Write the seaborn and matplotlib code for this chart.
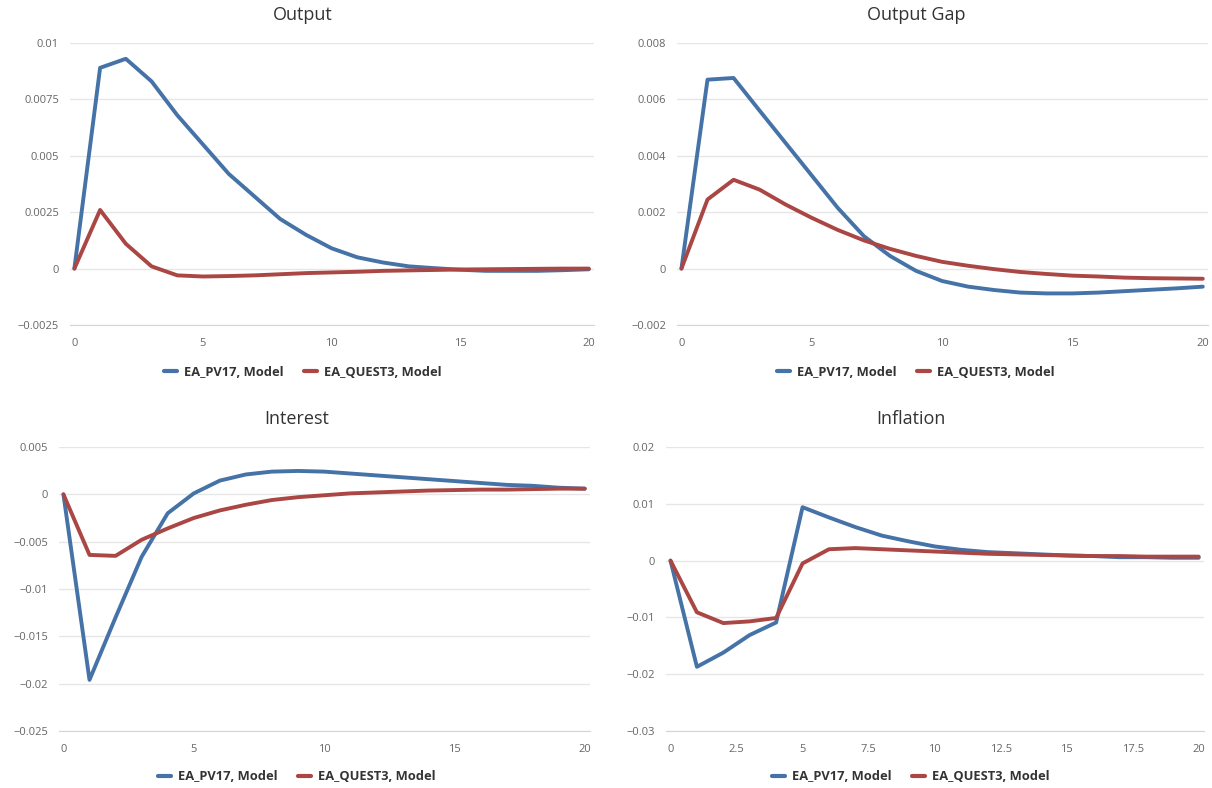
import pandas as pd
import matplotlib
matplotlib.use("Agg")
import matplotlib.pyplot as plt
import seaborn as sns

# impulse responses, periods 0..20
periods = list(range(21))
series_names = ["EA_PV17, Model", "EA_QUEST3, Model"]

output_pv17 = [0, 0.0089, 0.0093, 0.0083, 0.0068, 0.0055, 0.0042, 0.0032, 0.0022, 0.0015, 0.0009,
               0.0005, 0.00027, 0.0001, 0.00002, -0.00005, -0.0001, -0.0001, -0.0001, -0.00007, -0.00003]
output_quest3 = [0, 0.0026, 0.0011, 0.0001, -0.0003, -0.00035, -0.00033, -0.0003, -0.00025, -0.0002, -0.00017,
                 -0.00014, -0.0001, -0.00008, -0.00006, -0.00004, -0.00003, -0.00002, -0.00001, 0, 0]

gap_pv17 = [0, 0.0067, 0.00676, 0.0056, 0.00445, 0.0033, 0.00215, 0.00115, 0.00045, -0.00008, -0.00044,
            -0.00064, -0.00076, -0.00085, -0.00088, -0.00088, -0.00085, -0.0008, -0.00075, -0.0007, -0.00064]
gap_quest3 = [0, 0.00245, 0.00315, 0.0028, 0.00227, 0.0018, 0.00137, 0.001, 0.0007, 0.00045, 0.00024,
              0.0001, -0.00002, -0.00012, -0.00019, -0.00025, -0.00028, -0.00032, -0.00034, -0.00035, -0.00036]

interest_pv17 = [0, -0.0196, -0.013, -0.0066, -0.002, 0.0001, 0.00145, 0.0021, 0.0024, 0.00247, 0.0024,
                 0.0022, 0.002, 0.0018, 0.0016, 0.0014, 0.0012, 0.001, 0.0009, 0.0007, 0.0006]
interest_quest3 = [0, -0.0064, -0.0065, -0.0048, -0.0036, -0.0025, -0.0017, -0.0011, -0.0006, -0.0003, -0.0001,
                   0.0001, 0.0002, 0.0003, 0.0004, 0.00045, 0.0005, 0.0005, 0.00055, 0.0006, 0.0006]

inflation_pv17 = [0, -0.0187, -0.0162, -0.0131, -0.0109, 0.0094, 0.0076, 0.0059, 0.0044, 0.0034, 0.0025,
                  0.0019, 0.0015, 0.0013, 0.0011, 0.0009, 0.0008, 0.0006, 0.0006, 0.0005, 0.0005]
inflation_quest3 = [0, -0.0091, -0.011, -0.0107, -0.0101, -0.0005, 0.002, 0.0022, 0.002, 0.0018, 0.0016,
                    0.0014, 0.0012, 0.0011, 0.001, 0.0009, 0.0008, 0.0008, 0.0007, 0.0007, 0.0007]

titles = ["Output", "Output Gap", "Interest", "Inflation"]
y_ticks = [
    [-0.0025, 0, 0.0025, 0.005, 0.0075, 0.01],
    [-0.002, 0, 0.002, 0.004, 0.006, 0.008],
    [-0.025, -0.02, -0.015, -0.01, -0.005, 0, 0.005],
    [-0.03, -0.02, -0.01, 0, 0.01, 0.02],
]
x_ticks = [
    [0, 5, 10, 15, 20],
    [0, 5, 10, 15, 20],
    [0, 5, 10, 15, 20],
    [0, 2.5, 5, 7.5, 10, 12.5, 15, 17.5, 20],
]
panel_data = [
    (output_pv17, output_quest3),
    (gap_pv17, gap_quest3),
    (interest_pv17, interest_quest3),
    (inflation_pv17, inflation_quest3),
]

sns.set_style("white")
plt.rcParams["font.family"] = ["Open Sans", "DejaVu Sans"]

palette = {series_names[0]: "#4572A7", series_names[1]: "#AA4643"}

W, H = 1212, 788
fig = plt.figure(figsize=(W / 100, H / 100), dpi=100)

# axes boxes in pixels: left, top, right, bottom
boxes = [(70, 43, 594, 325), (677, 43, 1208, 325), (59, 447, 590, 731), (666, 447, 1204, 731)]
title_pos = [(303, 15), (916, 15), (297, 419), (911, 419)]
legend_pos = [(303, 372), (916, 372), (297, 777), (911, 777)]


def fmt(v):
    return f"{v:g}".replace("-", "\u2212")


for i in range(4):
    l, t, r, b = boxes[i]
    ax = fig.add_axes([l / W, 1 - b / H, (r - l) / W, (b - t) / H])
    pv, qu = panel_data[i]
    df = pd.DataFrame({
        "period": periods * 2,
        "value": pv + qu,
        "series": [series_names[0]] * len(periods) + [series_names[1]] * len(periods),
    })
    sns.lineplot(data=df, x="period", y="value", hue="series", palette=palette,
                 linewidth=2.8, ax=ax, legend=False)

    ax.set_xlim(-0.17, 20.2)
    ax.set_ylim(y_ticks[i][0], y_ticks[i][-1])
    ax.set_yticks(y_ticks[i])
    ax.set_yticklabels([fmt(v) for v in y_ticks[i]])
    ax.set_xticks(x_ticks[i])
    ax.set_xticklabels([fmt(v) for v in x_ticks[i]])
    ax.set_xlabel("")
    ax.set_ylabel("")
    ax.grid(axis="y", color="#e6e6e6", linewidth=1)
    ax.set_axisbelow(True)
    for side in ["top", "right", "left"]:
        ax.spines[side].set_visible(False)
    ax.spines["bottom"].set_color("#ccd6eb")
    ax.tick_params(axis="x", colors="#ccd6eb", length=5, width=1, labelcolor="#666666", labelsize=8, pad=4)
    ax.tick_params(axis="y", length=0, labelcolor="#666666", labelsize=8, pad=8)

    tx, ty = title_pos[i]
    fig.text(tx / W, 1 - ty / H, titles[i], ha="center", va="center", fontsize=13, color="#333333")

    handles = [plt.Line2D([], [], color=palette[n], linewidth=3) for n in series_names]
    lx, ly = legend_pos[i]
    fig.legend(handles, series_names, loc="center", bbox_to_anchor=(lx / W, 1 - ly / H), ncol=2,
               frameon=False, prop={"weight": "bold", "size": 9.3}, labelcolor="#333333",
               handlelength=1.0, columnspacing=1.6, handletextpad=0.55)

fig.savefig("out.png", dpi=100)
